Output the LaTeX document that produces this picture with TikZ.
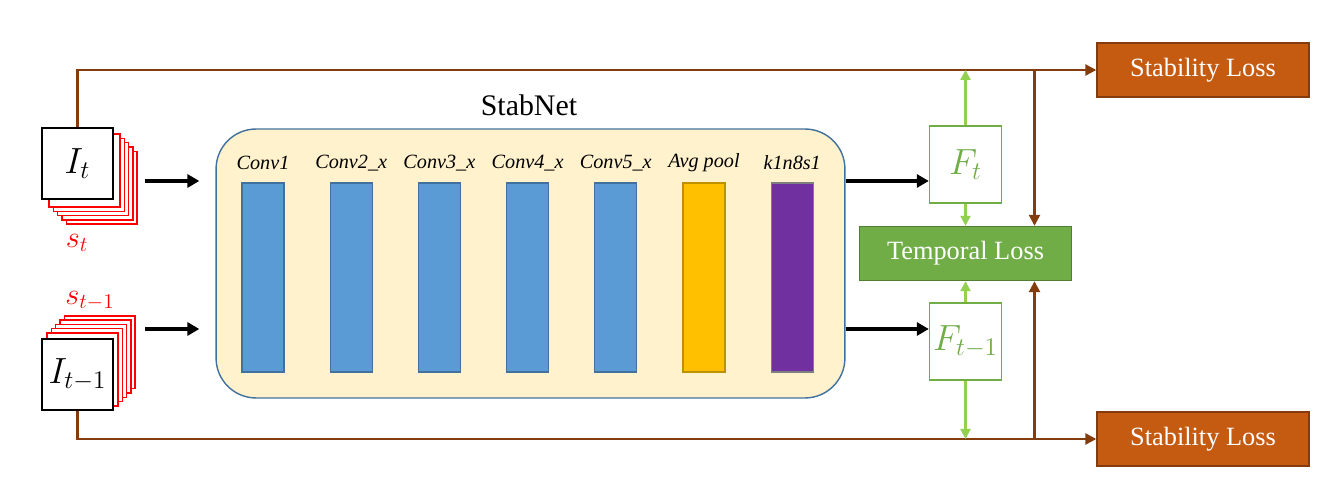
\documentclass[tikz,border=0pt]{standalone}
\usepackage{fontspec}
\setmainfont{Liberation Serif}
\usetikzlibrary{positioning, arrows.meta}

\definecolor{netfill}{HTML}{FFF2CC}
\definecolor{netdraw}{HTML}{41719C}
\definecolor{convblue}{HTML}{5B9BD5}
\definecolor{poolyellow}{HTML}{FFC000}
\definecolor{pooldraw}{HTML}{BF9000}
\definecolor{outpurple}{HTML}{7030A0}
\definecolor{outdraw}{HTML}{7F7F7F}
\definecolor{lossgreen}{HTML}{70AD47}
\definecolor{lossgreendark}{HTML}{507E32}
\definecolor{featgreen}{HTML}{92D050}
\definecolor{stabbrown}{HTML}{C55A11}
\definecolor{linebrown}{HTML}{843C0C}

\begin{document}
\begin{tikzpicture}[x=0.02cm, y=-0.02cm]
        \tikzstyle{imgbox} = [rectangle, minimum width=1.42cm, minimum height=1.42cm, inner sep=0pt, draw=black, fill=white, line width=0.8pt, font=\fontsize{21}{24}\selectfont]
        \tikzstyle{salbox} = [rectangle, minimum width=1.42cm, minimum height=1.46cm, draw=red, fill=white, line width=0.8pt]
        \tikzstyle{layer} = [rectangle, minimum width=0.84cm, minimum height=3.78cm, line width=0.7pt]
        \tikzstyle{layertext} = [font=\fontsize{11.5}{14}\selectfont\itshape]
        \tikzstyle{feat} = [rectangle, minimum width=1.44cm, minimum height=1.54cm, inner sep=0pt, draw=lossgreen, fill=white, line width=0.8pt, text=lossgreen, font=\fontsize{22}{25}\selectfont]
        \tikzstyle{loss} = [rectangle, minimum width=4.24cm, minimum height=1.08cm, text=white, line width=0.8pt, font=\fontsize{15}{18}\selectfont]
        \tikzstyle{arrow} = [line width=2.3pt, -{Triangle[length=0.24cm, width=0.26cm]}]
        \tikzstyle{brownline} = [line width=1.4pt, draw=linebrown, -{Triangle[length=0.22cm, width=0.22cm]}]
        \tikzstyle{greenline} = [line width=1.2pt, draw=featgreen, -{Triangle[length=0.2cm, width=0.2cm]}]

        \useasboundingbox (0,0) rectangle (1330,489);

        % frame t and its saliency stack
        \foreach \k in {5,4,3,2,1}
            \node (st\k) [salbox] at (80.2+4.3*\k, 166.2+4.3*\k) {};
        \node (it) [imgbox] at (77.5,163.5) {$I_t$};
        \node (stname) [text=red, font=\fontsize{18}{21}\selectfont] at (77,243) {$s_t$};

        % frame t-1 and its saliency stack
        \foreach \k in {5,4,3,2,1}
            \node (sp\k) [salbox] at (78.2+4.3*\k, 373.8-4.3*\k) {};
        \node (ip) [imgbox] at (77.5,374.5) {$I_{t-1}$};
        \node (spname) [text=red, font=\fontsize{18}{21}\selectfont] at (90,301) {$s_{t-1}$};

        % the network
        \node (net) [rectangle, rounded corners=0.8cm, minimum width=12.58cm, minimum height=5.38cm, draw=netdraw, fill=netfill, line width=0.8pt] at (530.5,263.5) {};
        \node (netname) [font=\fontsize{17}{20}\selectfont] at (529,105) {StabNet};

        \foreach \i/\lab/\fc/\dc in {0/Conv1/convblue/netdraw, 1/Conv2\_x/convblue/netdraw, 2/Conv3\_x/convblue/netdraw, 3/Conv4\_x/convblue/netdraw, 4/Conv5\_x/convblue/netdraw, 5/Avg pool/poolyellow/pooldraw, 6/k1n8s1/outpurple/outdraw}
        {
            \node (layer\i) [layer, fill=\fc, draw=\dc] at (263+88.2*\i, 277.5) {};
            \node (layername\i) [layertext] at (263+88.2*\i, 163) {\lab};
        }

        % features and losses
        \node (ft) [feat] at (965.5,164.5) {$F_t$};
        \node (fp) [feat] at (965.5,341.5) {$F_{t-1}$};
        \node (tloss) [loss, fill=lossgreen, draw=lossgreendark] at (965.5,253.5) {Temporal Loss};
        \node (stabt) [loss, fill=stabbrown, draw=linebrown] at (1203,70) {Stability Loss};
        \node (stabp) [loss, fill=stabbrown, draw=linebrown] at (1203,439) {Stability Loss};

        \coordinate (int) at (145,181);
        \coordinate (inp) at (145,329);
        \coordinate (jt) at (1034.5,70);
        \coordinate (jp) at (1034.5,439);

        \draw [arrow, shorten >=0.32cm] (int) -- (int -| net.west);
        \draw [arrow, shorten >=0.32cm] (inp) -- (inp -| net.west);
        \draw [arrow] (net.east |- int) -- (ft.west |- int);
        \draw [arrow] (net.east |- inp) -- (fp.west |- inp);

        \draw [brownline] (it.north) |- (stabt.west);
        \draw [brownline] (ip.south) |- (stabp.west);
        \draw [brownline] (jt) -- (jt |- tloss.north);
        \draw [brownline] (jp) -- (jp |- tloss.south);

        \draw [greenline] (ft.north) -- (ft.north |- stabt.west);
        \draw [greenline] (ft.south) -- (ft.south |- tloss.north);
        \draw [greenline] (fp.north) -- (fp.north |- tloss.south);
        \draw [greenline] (fp.south) -- (fp.south |- stabp.west);
    \end{tikzpicture}
\end{document}
